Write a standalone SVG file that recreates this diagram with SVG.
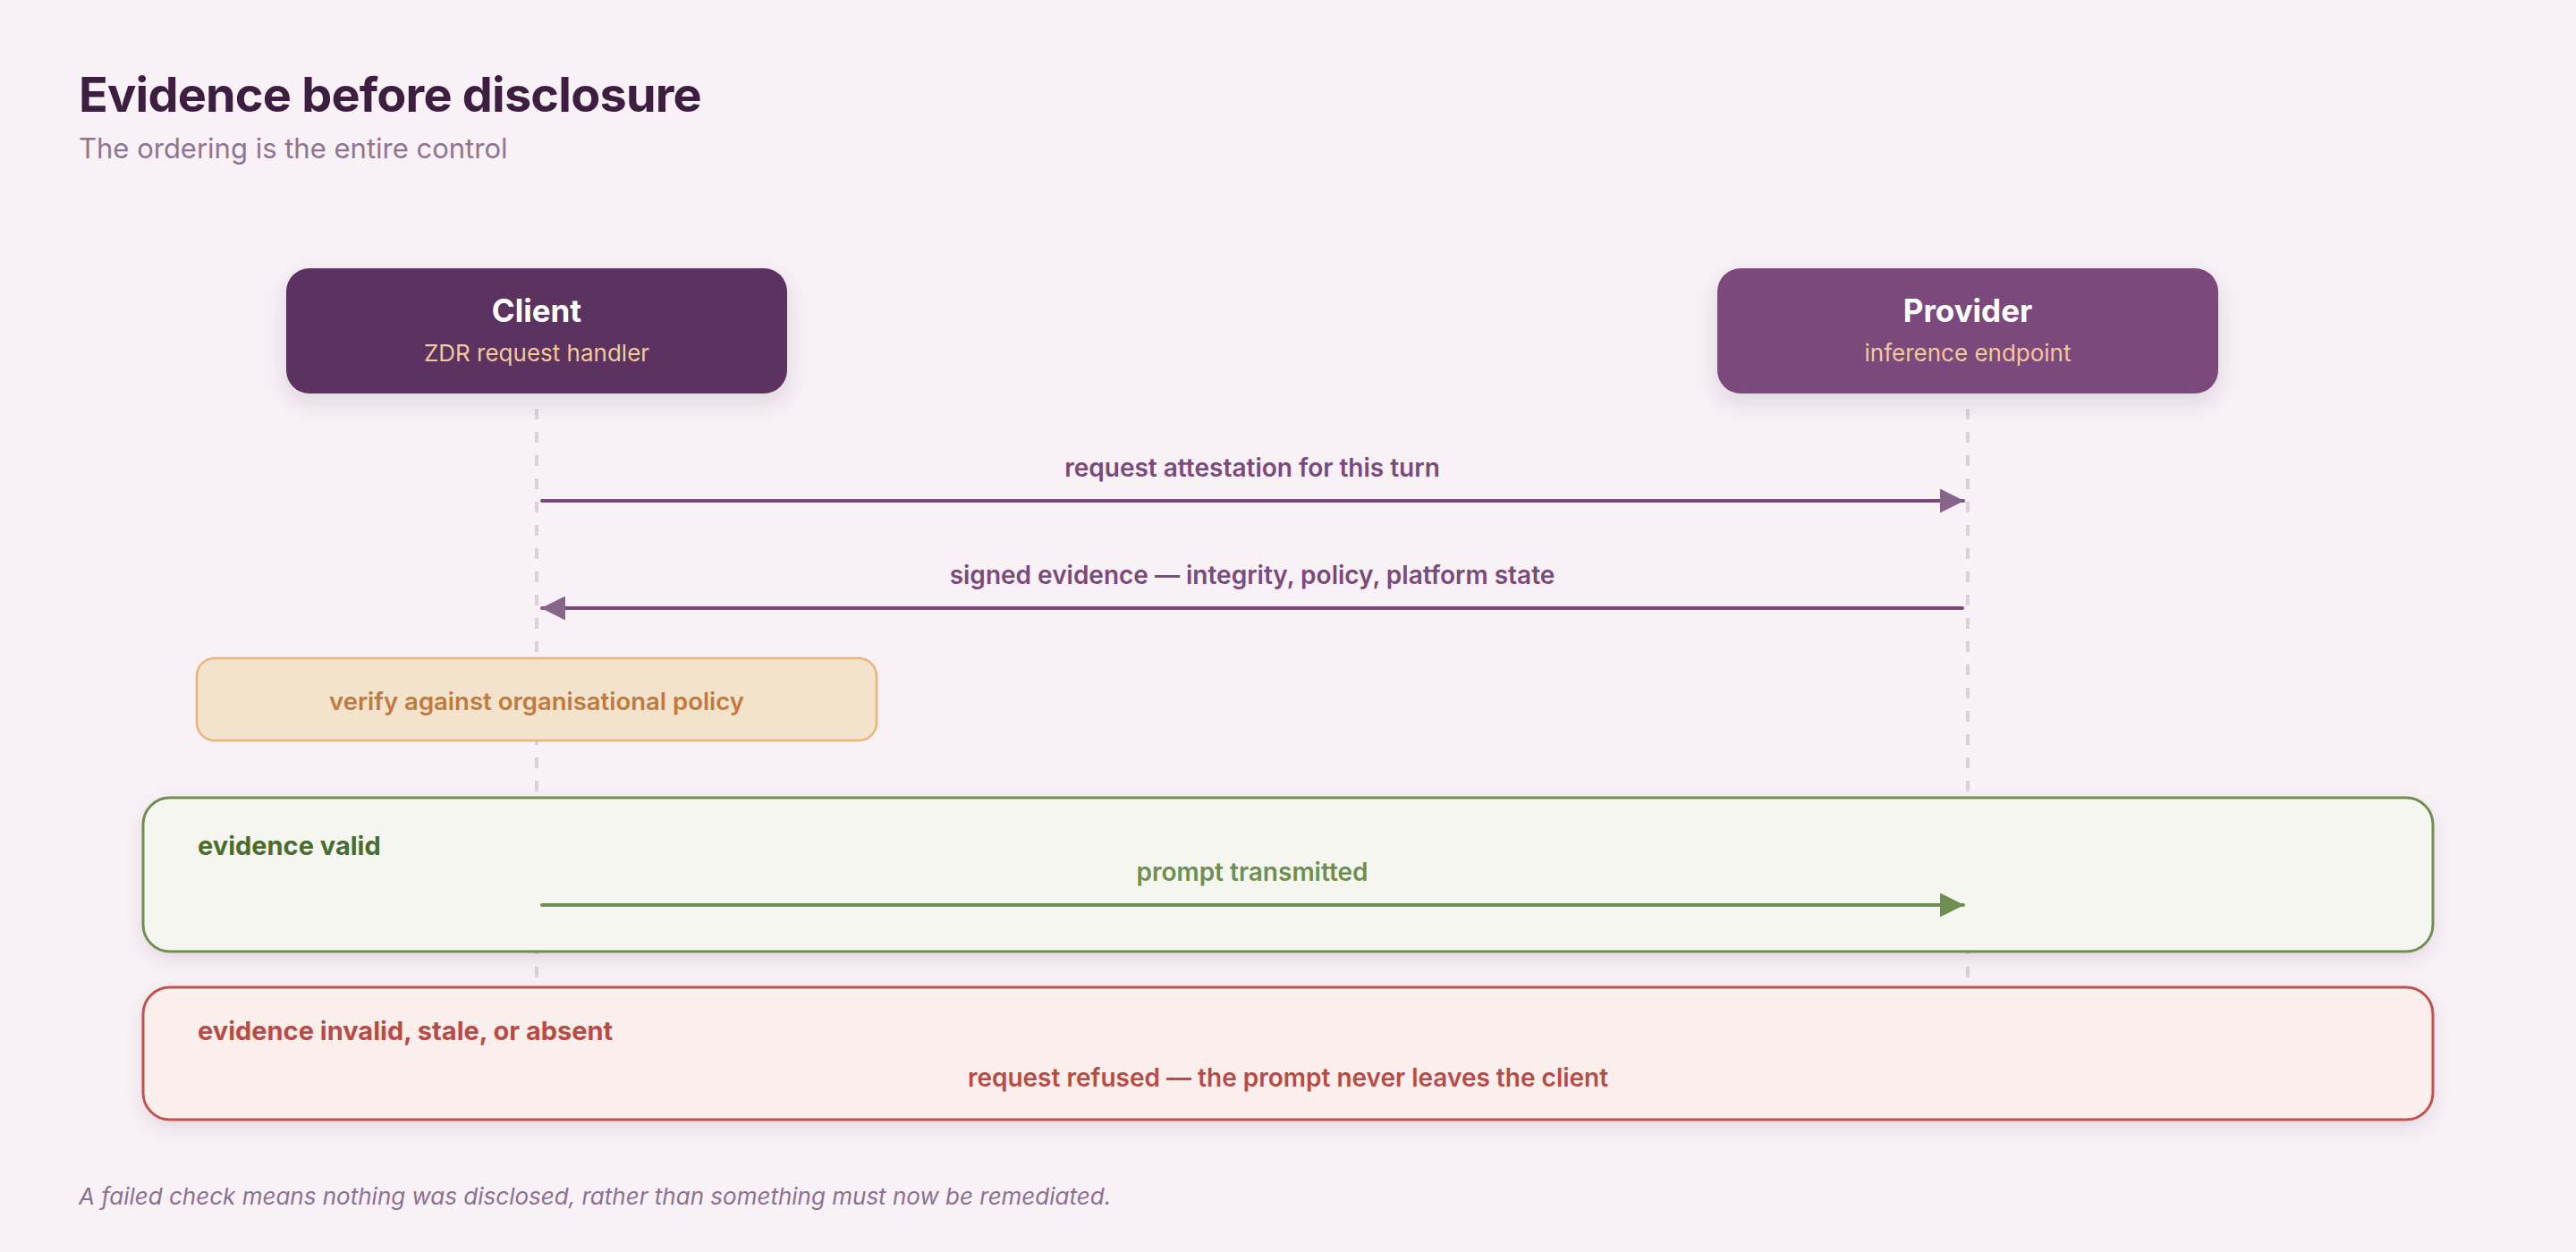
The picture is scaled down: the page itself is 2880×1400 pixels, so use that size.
<svg xmlns="http://www.w3.org/2000/svg" width="2880" height="1400" viewBox="0 0 2880 1400">
<defs>
<style>
.title{font-family:Inter,"Noto Sans","Liberation Sans",sans-serif;font-weight:700;font-size:54px;fill:#3d1e40;letter-spacing:-0.8px}
.sub{font-family:Inter,"Noto Sans","Liberation Sans",sans-serif;font-weight:400;font-size:31px;fill:#8f7592}
.ntitle{font-family:Inter,"Noto Sans","Liberation Sans",sans-serif;font-weight:700;font-size:35px;fill:#ffffff;text-anchor:middle}
.nsub{font-family:Inter,"Noto Sans","Liberation Sans",sans-serif;font-weight:400;font-size:26px;fill:#f1c99a;text-anchor:middle}
.msg{font-family:Inter,"Noto Sans","Liberation Sans",sans-serif;font-weight:600;font-size:28px;fill:#7a4a7a;text-anchor:middle}
.life{stroke:#ddd0dc;stroke-width:4;stroke-dasharray:12 14;fill:none}
.arrow{stroke:#7b4a7b;stroke-width:4;fill:none}
.garrow{stroke:#6e8f50;stroke-width:4;fill:none}
.verify{fill:#f3e3cc;stroke:#ebb477;stroke-width:2.5}
.vtext{font-family:Inter,"Noto Sans","Liberation Sans",sans-serif;font-weight:600;font-size:27.5px;fill:#c07a3b;text-anchor:middle}
.okbox{fill:#f4f6ef;stroke:#6e8f50;stroke-width:3}
.badbox{fill:#faefed;stroke:#c0524b;stroke-width:3}
.oklab{font-family:Inter,"Noto Sans","Liberation Sans",sans-serif;font-weight:700;font-size:29px;fill:#4b6b2f}
.badlab{font-family:Inter,"Noto Sans","Liberation Sans",sans-serif;font-weight:700;font-size:29px;fill:#b84b45}
.oktext{font-family:Inter,"Noto Sans","Liberation Sans",sans-serif;font-weight:600;font-size:28px;fill:#6e8f50;text-anchor:middle}
.badtext{font-family:Inter,"Noto Sans","Liberation Sans",sans-serif;font-weight:600;font-size:28px;fill:#b84b45;text-anchor:middle}
.foot{font-family:Inter,"Noto Sans","Liberation Sans",sans-serif;font-style:italic;font-weight:400;font-size:26px;fill:#8c7290}
</style>
<filter id="shadow" x="-10%" y="-30%" width="120%" height="180%">
<feDropShadow dx="0" dy="10" stdDeviation="12" flood-color="#4a2050" flood-opacity="0.14"/>
</filter>
<filter id="shadowSoft" x="-5%" y="-20%" width="110%" height="160%">
<feDropShadow dx="0" dy="8" stdDeviation="10" flood-color="#4a2050" flood-opacity="0.10"/>
</filter>
<marker id="ah" markerUnits="userSpaceOnUse" markerWidth="27" markerHeight="27" refX="26" refY="13.5" orient="auto">
<path d="M0,0 L27,13.5 L0,27 Z" fill="#87658a"/>
</marker>
<marker id="ahg" markerUnits="userSpaceOnUse" markerWidth="27" markerHeight="27" refX="26" refY="13.5" orient="auto">
<path d="M0,0 L27,13.5 L0,27 Z" fill="#6e8f50"/>
</marker>
</defs>
<rect x="0" y="0" width="2880" height="1400" fill="#f8f1f6"/>
<text class="title" x="88" y="125">Evidence before disclosure</text>
<text class="sub" x="88" y="177">The ordering is the entire control</text>

<g id="lifelines">
<line class="life" x1="600" y1="457" x2="600" y2="1100"/>
<line class="life" x1="2200" y1="457" x2="2200" y2="1100"/>
</g>

<g id="client">
<rect x="320" y="300" width="560" height="140" rx="26" fill="#5c3060" filter="url(#shadow)"/>
<text class="ntitle" x="600" y="360">Client</text>
<text class="nsub" x="600" y="404">ZDR request handler</text>
</g>

<g id="provider">
<rect x="1920" y="300" width="560" height="140" rx="26" fill="#7b4a7b" filter="url(#shadow)"/>
<text class="ntitle" x="2200" y="360">Provider</text>
<text class="nsub" x="2200" y="404">inference endpoint</text>
</g>

<g id="verify">
<rect class="verify" x="220" y="736" width="760" height="92" rx="20"/>
<text class="vtext" x="600" y="794">verify against organisational policy</text>
</g>

<g id="valid">
<rect class="okbox" x="160" y="892" width="2560" height="172" rx="30" filter="url(#shadowSoft)"/>
<text class="oklab" x="221" y="956">evidence valid</text>
</g>

<g id="invalid">
<rect class="badbox" x="160" y="1104" width="2560" height="148" rx="30" filter="url(#shadowSoft)"/>
<text class="badlab" x="221" y="1163">evidence invalid, stale, or absent</text>
<text class="badtext" x="1440" y="1215">request refused — the prompt never leaves the client</text>
</g>

<g id="connectors">
<line class="arrow" x1="606" y1="560" x2="2195" y2="560" stroke-linecap="round" marker-end="url(#ah)"/>
<text class="msg" x="1400" y="533">request attestation for this turn</text>
<line class="arrow" x1="2194" y1="680" x2="606" y2="680" stroke-linecap="round" marker-end="url(#ah)"/>
<text class="msg" x="1400" y="653">signed evidence — integrity, policy, platform state</text>
<line class="garrow" x1="606" y1="1012" x2="2195" y2="1012" stroke-linecap="round" marker-end="url(#ahg)"/>
<text class="oktext" x="1400" y="985">prompt transmitted</text>
</g>

<text class="foot" x="88" y="1347">A failed check means nothing was disclosed, rather than something must now be remediated.</text>
</svg>
